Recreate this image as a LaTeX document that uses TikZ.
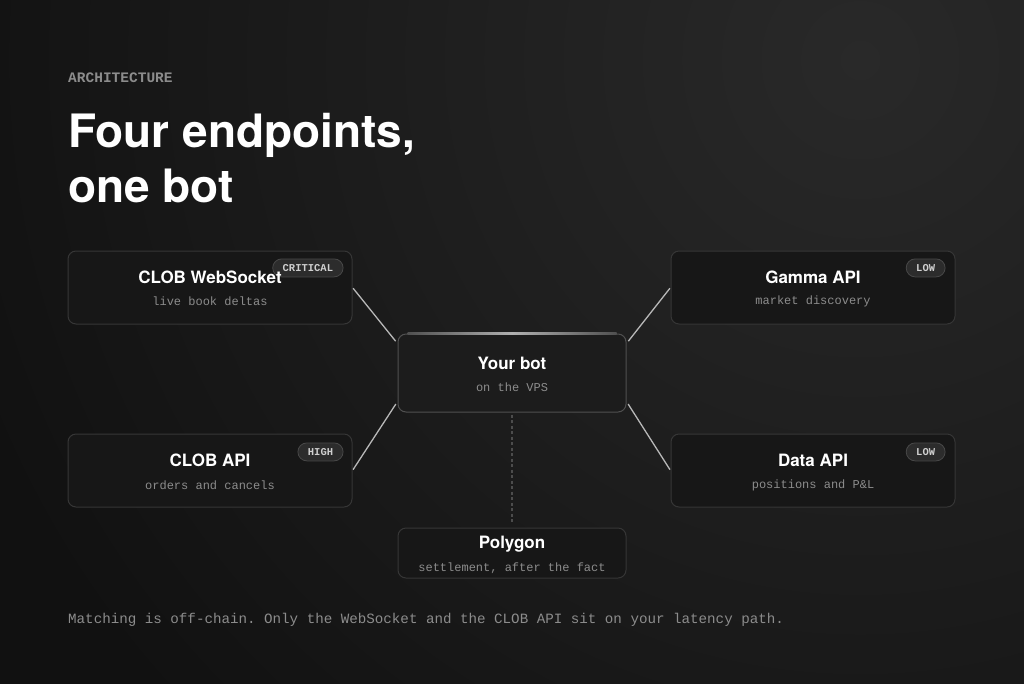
\documentclass[tikz,border=0pt]{standalone}
\usepackage{fontspec}
\setmainfont{TeX Gyre Heros}
\setmonofont{Liberation Mono}
\usepackage{xcolor}

\definecolor{BgDark}{HTML}{111111}
\definecolor{BgGlow}{HTML}{292929}
\definecolor{BoxFill}{HTML}{171717}
\definecolor{BoxLine}{HTML}{363636}
\definecolor{BotFill}{HTML}{1C1C1C}
\definecolor{BotLine}{HTML}{505050}
\definecolor{BotGleam}{HTML}{B0B0B0}
\definecolor{BadgeFill}{HTML}{2C2C2C}
\definecolor{BadgeLine}{HTML}{484848}
\definecolor{BadgeText}{HTML}{CFCFCF}
\definecolor{SubText}{HTML}{8C8C8C}
\definecolor{WireGray}{HTML}{B8B8B8}
\definecolor{DashGray}{HTML}{4C4C4C}

\begin{document}
\begin{tikzpicture}[
          % Environment Config
          x=1pt, y=-1pt,
          Endpoint/.style={% Style for the endpoint cards
            draw=BoxLine,
            fill=BoxFill,
            line width=1pt,
            rounded corners=8pt,
            inner sep=0pt,
            minimum width=284pt,
            minimum height=73pt
          },
          Core/.style={% Style for the bot card
            Endpoint,
            draw=BotLine,
            fill=BotFill,
            minimum width=228pt,
            minimum height=78pt
          },
          Title/.style={% Card titles
            text=white,
            font=\fontsize{17}{20}\selectfont\bfseries
          },
          Sub/.style={% Card subtitles
            text=SubText,
            font=\fontsize{12}{14}\ttfamily
          },
          Badge/.style={% Priority pills
            draw=BadgeLine,
            fill=BadgeFill,
            line width=0.8pt,
            rounded corners=9pt,
            anchor=north east,
            inner xsep=10pt,
            inner ysep=0pt,
            minimum height=18pt,
            text=BadgeText,
            font=\fontsize{10.5}{12}\ttfamily\bfseries
          },
          Wire/.style={% Style for the links
            WireGray,
            line width=1.3pt,
            shorten <= 1pt,
            shorten >= 3pt
          },
          Settle/.style={% Style for the settlement link
            DashGray,
            line width=1.2pt,
            dash pattern=on 3pt off 2.5pt,
            shorten <= 2pt,
            shorten >= 4pt
          }
        ]

        % Background with glow at the top right
        \useasboundingbox (0,0) rectangle (1024,683);
        \begin{scope}
          \clip (-3,-3) rectangle (1027,686);
          \fill[BgDark] (-3,-3) rectangle (1027,686);
          \shade[inner color=BgGlow, outer color=BgDark] (860,60) circle (950pt);
        \end{scope}

        %===Heading===
        \node[anchor=west, inner sep=0pt, text=SubText,
              font=\fontsize{14.5}{16}\ttfamily\bfseries] (kicker) at (68,78) {ARCHITECTURE};
        \node[anchor=base west, align=left, inner sep=0pt, text=white,
              font=\fontsize{46}{55}\selectfont\bfseries] (headline) at (68,202)
              {Four endpoints,\\one bot};

        %===Cards===
        \node[Endpoint] (ws) at (210,287.5) {};
        \node[Endpoint] (gamma) at (813,287.5) {};
        \node[Endpoint] (clob) at (210,470.5) {};
        \node[Endpoint] (data) at (813,470.5) {};
        \node[Core] (bot) at (512,373) {};
        \node[Endpoint, minimum width=228pt, minimum height=50pt] (poly) at (512,553) {};

        % gleam on the top edge of the bot card
        \shade[left color=BotLine, right color=BotLine, middle color=BotGleam]
          ([xshift=10pt,yshift=0.6pt]bot.north west) rectangle ([xshift=-10pt,yshift=-0.8pt]bot.north east);

        %===Badges===
        \node[Badge] (ws-badge) at ([xshift=-9pt,yshift=-8pt]ws.north east) {CRITICAL};
        \node[Badge] (gamma-badge) at ([xshift=-10pt,yshift=-8pt]gamma.north east) {LOW};
        \node[Badge] (clob-badge) at ([xshift=-9pt,yshift=-9pt]clob.north east) {HIGH};
        \node[Badge] (data-badge) at ([xshift=-10pt,yshift=-9pt]data.north east) {LOW};

        %===Texts===
        \node[Title] (ws-title) at ([yshift=10.5pt]ws.center) {CLOB WebSocket};
        \node[Sub] (ws-sub) at ([yshift=-13.5pt]ws.center) {live book deltas};
        \node[Title] (gamma-title) at ([yshift=10.5pt]gamma.center) {Gamma API};
        \node[Sub] (gamma-sub) at ([yshift=-13.5pt]gamma.center) {market discovery};
        \node[Title] (clob-title) at ([yshift=10pt]clob.center) {CLOB API};
        \node[Sub] (clob-sub) at ([yshift=-14.5pt]clob.center) {orders and cancels};
        \node[Title] (data-title) at ([yshift=10pt]data.center) {Data API};
        \node[Sub] (data-sub) at ([yshift=-14.5pt]data.center) {positions and P\&L};
        \node[Title] (bot-title) at ([yshift=10pt]bot.center) {Your bot};
        \node[Sub] (bot-sub) at ([yshift=-14pt]bot.center) {on the VPS};
        \node[Title] (poly-title) at ([yshift=9pt]poly.center) {Polygon};
        \node[Sub] (poly-sub) at ([yshift=-15pt]poly.center) {settlement, after the fact};

        %===Links===
        \draw[Wire] (ws.east) -- ([yshift=-10pt]bot.north west);
        \draw[Wire] (clob.east) -- ([yshift=11pt]bot.south west);
        \draw[Wire] (gamma.west) -- ([yshift=-10pt]bot.north east);
        \draw[Wire] (data.west) -- ([yshift=11pt]bot.south east);
        \draw[Settle] (bot.south) -- (poly.north);

        %===Footnote===
        \node[Sub, anchor=west, inner sep=0pt, font=\fontsize{14.2}{16}\ttfamily] (note) at (68,620)
          {Matching is off-chain. Only the WebSocket and the CLOB API sit on your latency path.};

\end{tikzpicture}
\end{document}
